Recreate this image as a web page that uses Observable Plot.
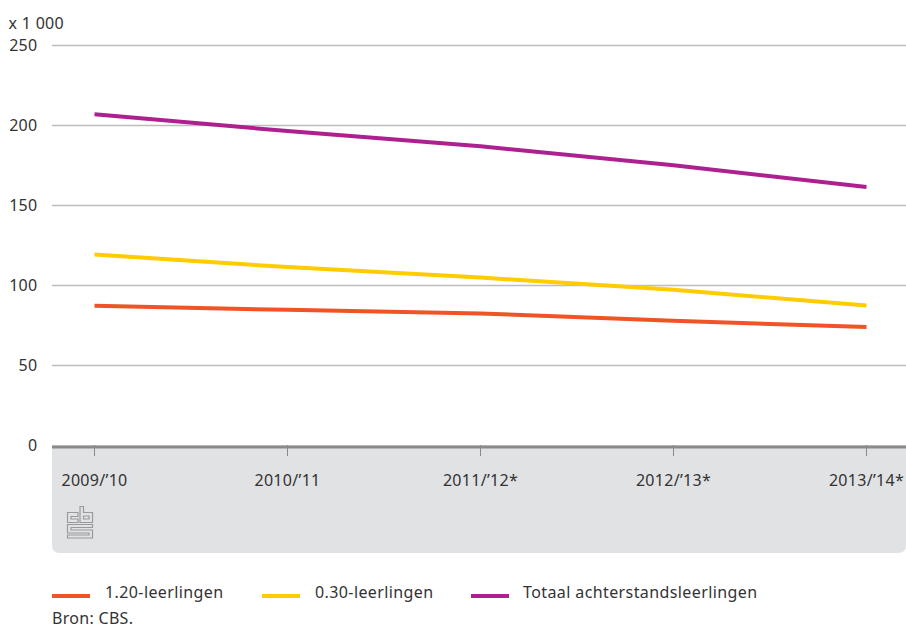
<!DOCTYPE html>
<html><head><meta charset="utf-8">
<script src="https://cdn.jsdelivr.net/npm/d3@7"></script>
<script src="https://cdn.jsdelivr.net/npm/@observablehq/plot@0.6"></script>
<style>
body{margin:0;background:#fff;font-family:"Noto Sans",sans-serif;color:#333;width:906px;height:628px;overflow:hidden;position:relative;}
#chart{position:absolute;left:0;top:0;}
.leg{position:absolute;top:582px;height:20px;line-height:20px;font-size:16px;letter-spacing:0.4px;color:#333;white-space:nowrap;}
.sw{position:absolute;top:594px;height:4px;width:38px;}
#src{position:absolute;left:52px;top:609px;line-height:18px;font-size:16px;letter-spacing:0.3px;color:#333;}
</style></head>
<body>
<div id="chart"></div>
<div id="legend"></div>
<div id="src">Bron: CBS.</div>
<script>
const years = ["2009/’10", "2010/’11", "2011/’12*", "2012/’13*", "2013/’14*"];
const leerlingen120 = [87.3, 84.8, 82.5, 78.0, 74.0];
const leerlingen030 = [119.4, 111.5, 105.0, 97.3, 87.5];
const totaal = [207.0, 196.5, 187.0, 175.2, 161.5];
const seriesNames = ["1.20-leerlingen", "0.30-leerlingen", "Totaal achterstandsleerlingen"];
const seriesColors = ["#ef5326", "#ffcc00", "#ae208f"];
const yTicks = [0, 50, 100, 150, 200, 250];
const unitLabel = "x 1 000";

const rows = [];
[leerlingen120, leerlingen030, totaal].forEach((vals, i) =>
  vals.forEach((v, j) => rows.push({year: years[j], value: v, series: seriesNames[i]})));

const plot = Plot.plot({
  width: 906, height: 560,
  marginLeft: 52, marginRight: 0, marginTop: 45, marginBottom: 115,
  style: {fontFamily: "Noto Sans", fontSize: "16px", color: "#333", background: "transparent", letterSpacing: "0.3px"},
  x: {type: "point", domain: years, range: [93, 866], padding: 0, label: null},
  y: {domain: [0, 250], range: [445, 45], label: null},
  color: {domain: seriesNames, range: seriesColors},
  marks: [
    Plot.ruleY(yTicks.filter(d => d > 0), {stroke: "#bdbdbd", strokeWidth: 1.5}),
    Plot.axisY({ticks: yTicks, tickSize: 0, tickPadding: 15, fontSize: 16, fill: "#333"}),
    Plot.axisX({tickSize: 11, tickPadding: 18, stroke: "#8a8a8a", fontSize: 16, fill: "#333"}),
    Plot.ruleY([0], {stroke: "#8a8a8a", strokeWidth: 3, dy: 1.5}),
    Plot.line(rows, {x: "year", y: "value", z: "series", stroke: "series", strokeWidth: 4, strokeLinecap: "butt", curve: "linear"}),
    Plot.text([unitLabel], {frameAnchor: "top-left", dx: -44, dy: -28, textAnchor: "start", fontSize: 16, fill: "#333"})
  ]
});
document.getElementById("chart").appendChild(plot);

// gray panel behind the x axis
const svg = d3.select(plot);
const y0 = plot.scale("y").apply(0);
const x0 = 52, x1 = 906, yb = 553, r = 8;
svg.insert("path", ":first-child")
  .attr("d", `M${x0},${y0}H${x1}V${yb - r}Q${x1},${yb} ${x1 - r},${yb}H${x0 + r}Q${x0},${yb} ${x0},${yb - r}Z`)
  .attr("fill", "#e1e2e4");

// CBS logo (decorative)
const g = svg.append("g").attr("transform", "translate(67,506)")
  .attr("fill", "none").attr("stroke", "#9a9a9a").attr("stroke-width", 1.2);
g.append("path").attr("d", "M0.5,6.5H11V10.5H4V13H11V16.5H0.5Z");
g.append("path").attr("d", "M13,0.5H16.5V6.5H25.5V16.5H13Z M16.5,10H22V13H16.5Z");
g.append("path").attr("d", "M0.5,18.5H25.5V21.5H4V24H25.5V32H0.5V29H22V27H0.5Z");

// legend
const legend = document.getElementById("legend");
const swX = [52, 262, 471], txX = [105, 315, 523];
seriesNames.forEach((n, i) => {
  const s = document.createElement("div");
  s.className = "sw"; s.style.left = swX[i] + "px"; s.style.background = seriesColors[i];
  legend.appendChild(s);
  const t = document.createElement("div");
  t.className = "leg"; t.style.left = txX[i] + "px"; t.textContent = n;
  legend.appendChild(t);
});
</script>
</body></html>
